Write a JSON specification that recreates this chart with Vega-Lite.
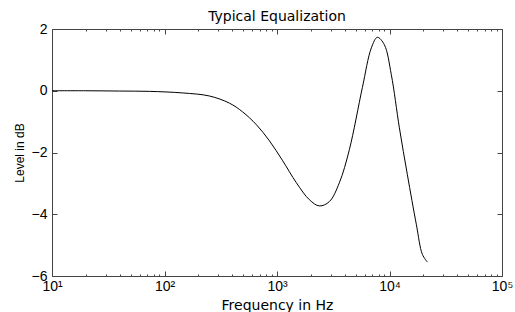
{
  "$schema": "https://vega.github.io/schema/vega-lite/v6.json",
  "width": 450,
  "height": 247,
  "autosize": "none",
  "padding": {"left": 52, "top": 29, "right": 13, "bottom": 36},
  "background": "white",
  "title": {"text": "Typical Equalization", "fontSize": 14, "font": "DejaVu Sans", "fontWeight": "normal", "offset": -2, "color": "black", "anchor": "middle"},
  "config": {"view": {"stroke": null}},
  "data": {"values": [
    {"freq": 10, "level": 0.0},
    {"freq": 20, "level": 0.0},
    {"freq": 40, "level": -0.01},
    {"freq": 73.5, "level": -0.02},
    {"freq": 144, "level": -0.07},
    {"freq": 251, "level": -0.17},
    {"freq": 377, "level": -0.40},
    {"freq": 493, "level": -0.68},
    {"freq": 656, "level": -1.10},
    {"freq": 856, "level": -1.62},
    {"freq": 1116, "level": -2.25},
    {"freq": 1487, "level": -2.98},
    {"freq": 1940, "level": -3.53},
    {"freq": 2381, "level": -3.73},
    {"freq": 2922, "level": -3.59},
    {"freq": 3583, "level": -2.98},
    {"freq": 4396, "level": -1.91},
    {"freq": 5737, "level": 0.10},
    {"freq": 6900, "level": 1.39},
    {"freq": 7800, "level": 1.73},
    {"freq": 9000, "level": 1.49},
    {"freq": 10380, "level": 0.52},
    {"freq": 12240, "level": -1.20},
    {"freq": 14420, "level": -2.72},
    {"freq": 17340, "level": -4.34},
    {"freq": 19600, "level": -5.30},
    {"freq": 21720, "level": -5.55}
  ]},
  "layer": [
    {
      "mark": {"type": "line", "color": "#000000", "strokeWidth": 1, "interpolate": "catmull-rom"},
      "encoding": {
        "x": {
          "field": "freq", "type": "quantitative",
          "scale": {"type": "log", "domain": [10, 100000], "nice": false},
          "axis": {
            "orient": "bottom",
            "title": "Frequency in Hz",
            "titleFont": "DejaVu Sans", "titleFontSize": 14, "titleFontWeight": "normal", "titleColor": "black", "titlePadding": 2,
            "values": [10,20,30,40,50,60,70,80,90,100,200,300,400,500,600,700,800,900,1000,2000,3000,4000,5000,6000,7000,8000,9000,10000,20000,30000,40000,50000,60000,70000,80000,90000,100000],
            "labelExpr": "datum.value == 10 ? '10¹' : datum.value == 100 ? '10²' : datum.value == 1000 ? '10³' : datum.value == 10000 ? '10⁴' : datum.value == 100000 ? '10⁵' : ''",
            "labelFont": "Liberation Sans", "labelFontSize": 14, "labelColor": "black", "labelPadding": 8,
            "labelOverlap": false, "labelFlush": false,
            "grid": false,
            "domainColor": "#444444", "tickColor": "#444444",
            "tickSize": {"condition": {"test": "datum.value == 10 || datum.value == 100 || datum.value == 1000 || datum.value == 10000 || datum.value == 100000", "value": -5}, "value": -2}
          }
        },
        "y": {
          "field": "level", "type": "quantitative",
          "scale": {"domain": [-6, 2], "nice": false, "zero": false},
          "axis": {
            "orient": "left",
            "title": "Level in dB",
            "titleFont": "Liberation Sans", "titleFontSize": 12, "titleFontWeight": "normal", "titleColor": "black", "titlePadding": 5,
            "values": [-6, -4, -2, 0, 2],
            "labelFont": "Liberation Sans", "labelFontSize": 14, "labelColor": "black", "labelPadding": 10,
            "grid": false,
            "domainColor": "#444444", "tickColor": "#444444", "tickSize": -5
          }
        }
      }
    },
    {
      "mark": {"type": "line", "opacity": 0},
      "encoding": {
        "x": {
          "field": "freq", "type": "quantitative",
          "scale": {"type": "log", "domain": [10, 100000], "nice": false},
          "axis": {
            "orient": "top", "title": null, "labels": false, "grid": false,
            "values": [10,20,30,40,50,60,70,80,90,100,200,300,400,500,600,700,800,900,1000,2000,3000,4000,5000,6000,7000,8000,9000,10000,20000,30000,40000,50000,60000,70000,80000,90000,100000],
            "domainColor": "#444444", "tickColor": "#444444",
            "tickSize": {"condition": {"test": "datum.value == 10 || datum.value == 100 || datum.value == 1000 || datum.value == 10000 || datum.value == 100000", "value": -5}, "value": -2}
          }
        },
        "y": {
          "field": "level", "type": "quantitative",
          "scale": {"domain": [-6, 2], "nice": false, "zero": false},
          "axis": {
            "orient": "right", "title": null, "labels": false, "grid": false,
            "values": [-6, -4, -2, 0, 2],
            "domainColor": "#444444", "tickColor": "#444444", "tickSize": -5
          }
        }
      }
    }
  ],
  "resolve": {"axis": {"x": "independent", "y": "independent"}}
}
